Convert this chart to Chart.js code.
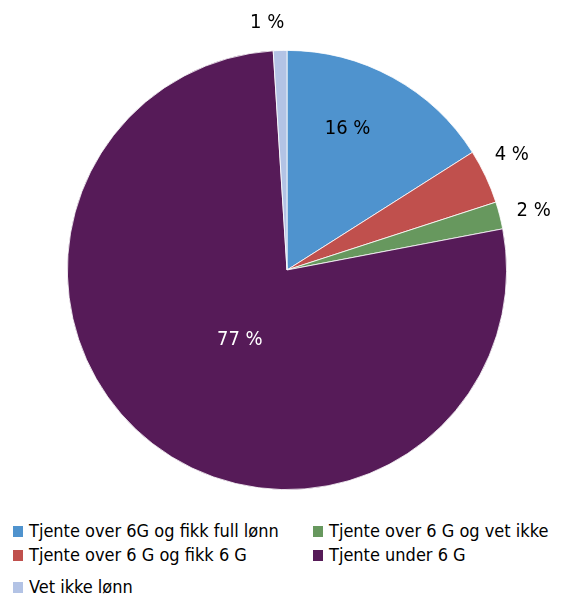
<!DOCTYPE html>
<html>
<head>
<meta charset="utf-8">
<script src="https://cdn.jsdelivr.net/npm/chart.js@4.4.1/dist/chart.umd.min.js"></script>
<style>
  html, body { margin: 0; padding: 0; background: #fff; }
  body { width: 570px; height: 595px; position: relative; overflow: hidden;
         font-family: 'DejaVu Sans Condensed', 'DejaVu Sans', sans-serif; }
  #wrap { position: absolute; left: 0; top: 0; width: 570px; height: 500px; }
  .lg { position: absolute; font-size: 18px; color: #000; white-space: nowrap; line-height: 20px; }
  .lg i { position: absolute; width: 10px; height: 11px; left: 0; top: 5px; }
  .lg span { position: absolute; left: 16px; top: 0; }
</style>
</head>
<body>
<div id="wrap"><canvas id="c"></canvas></div>
<div id="legend"></div>
<script>
// ---- data ----
const categories = [
  'Tjente over 6G og fikk full lønn',
  'Tjente over 6 G og fikk 6 G',
  'Tjente over 6 G og vet ikke',
  'Tjente under 6 G',
  'Vet ikke lønn'
];
const shares = [16, 4, 2, 77, 1];
const valueLabels = ['16 %', '4 %', '2 %', '77 %', '1 %'];

// ---- styling ----
const colors = ['#4F93CE', '#C0504D', '#67985E', '#561B58', '#B3C3E5'];
const labelColors = ['#000', '#000', '#000', '#fff', '#000'];
// label placement: radius factor relative to pie radius, angle shift (deg) from slice mid-angle
const labelPlace = [
  { rf: 0.70, da: -5.6 },
  { rf: 1.15, da: -1.9 },
  { rf: 1.155, da: 1.0 },
  { rf: 0.385, da: -3.9 },
  { rf: 1.13, da: -2.8 }
];
// legend positions (marker left x, row top y)
const legendPos = [
  { x: 13, y: 521 },
  { x: 13, y: 545 },
  { x: 313, y: 521 },
  { x: 313, y: 545 },
  { x: 13, y: 577 }
];

const labelPlugin = {
  id: 'sliceLabels',
  afterDatasetsDraw(chart) {
    const ctx = chart.ctx;
    const meta = chart.getDatasetMeta(0);
    ctx.save();
    ctx.font = '20px "DejaVu Sans Condensed", "DejaVu Sans", sans-serif';
    ctx.textAlign = 'center';
    ctx.textBaseline = 'middle';
    meta.data.forEach((arc, i) => {
      const p = arc.getProps(['x', 'y', 'startAngle', 'endAngle', 'outerRadius'], true);
      const mid = (p.startAngle + p.endAngle) / 2 + labelPlace[i].da * Math.PI / 180;
      const r = p.outerRadius * labelPlace[i].rf;
      ctx.fillStyle = labelColors[i];
      ctx.fillText(valueLabels[i], p.x + Math.cos(mid) * r, p.y + Math.sin(mid) * r);
    });
    ctx.restore();
  }
};

new Chart(document.getElementById('c'), {
  type: 'pie',
  data: {
    labels: categories,
    datasets: [{
      data: shares,
      backgroundColor: colors,
      borderColor: '#ffffff',
      borderWidth: 0.8
    }]
  },
  options: {
    responsive: true,
    maintainAspectRatio: false,
    animation: false,
    layout: { padding: { top: 50, bottom: 10, left: 4, right: 0 } },
    plugins: { legend: { display: false }, tooltip: { enabled: false } }
  },
  plugins: [labelPlugin]
});

const lg = document.getElementById('legend');
categories.forEach((name, i) => {
  const d = document.createElement('div');
  d.className = 'lg';
  d.style.left = legendPos[i].x + 'px';
  d.style.top = legendPos[i].y + 'px';
  const m = document.createElement('i');
  m.style.background = colors[i];
  const s = document.createElement('span');
  s.textContent = name;
  d.appendChild(m); d.appendChild(s);
  lg.appendChild(d);
});
</script>
</body>
</html>
